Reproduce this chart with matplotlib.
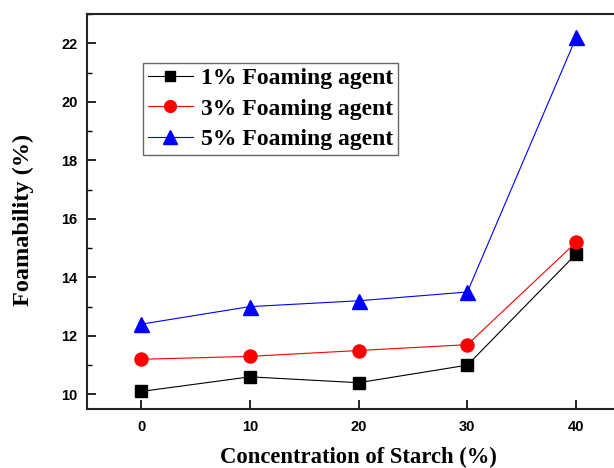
import matplotlib
matplotlib.use("Agg")
import matplotlib.pyplot as plt
from matplotlib.ticker import MultipleLocator

# ── Data ────────────────────────────────────────────────────────────────
starch = [0, 10, 20, 30, 40]
foam_1 = [10.1, 10.6, 10.4, 11.0, 14.8]
foam_3 = [11.2, 11.3, 11.5, 11.7, 15.2]
foam_5 = [12.4, 13.0, 13.2, 13.5, 22.2]
labels = ["1% Foaming agent", "3% Foaming agent", "5% Foaming agent"]

# ── Figure ──────────────────────────────────────────────────────────────
fig = plt.figure(figsize=(6.14, 4.68), dpi=100)
# right spine falls just outside the picture, as in the reference
ax = fig.add_axes([0.1412, 0.126, 0.8857, 0.844])

ax.plot(starch, foam_1, color="black", lw=0.8, marker="s", ms=8.4,
        mec="black", mfc="black", label=labels[0])
ax.plot(starch, foam_3, color="red", lw=0.8, marker="o", ms=9.4,
        mec="red", mfc="red", label=labels[1])
ax.plot(starch, foam_5, color="blue", lw=0.8, marker="^", ms=10.8,
        mec="blue", mfc="blue", label=labels[2])

ax.set_xlim(-5, 45)
ax.set_ylim(9.5, 23)
ax.set_xticks([0, 10, 20, 30, 40])
ax.yaxis.set_major_locator(MultipleLocator(2))
ax.yaxis.set_minor_locator(MultipleLocator(1))
ax.tick_params(which="both", direction="in", top=False, right=False)
ax.tick_params(which="major", length=6.5, width=1.2)
ax.tick_params(axis="x", which="major", pad=8)
ax.tick_params(axis="y", which="major", pad=6.5)
ax.tick_params(which="minor", length=3.6, width=1.0)
for lab in ax.get_xticklabels() + ax.get_yticklabels():
    lab.set_fontfamily("Liberation Sans")
    lab.set_fontweight("bold")
    lab.set_fontsize(10.5)

for side in ["left", "bottom", "top"]:
    ax.spines[side].set_linewidth(1.5)
    ax.spines[side].set_color("#222222")

ax.set_xlabel("Concentration of Starch (%)", family="Liberation Serif",
              fontweight="bold", fontsize=16.3, labelpad=9)
ax.set_ylabel("Foamability (%)", family="Liberation Serif",
              fontweight="bold", fontsize=17.5)
ax.yaxis.set_label_coords(-0.097, 0.478)

leg = ax.legend(loc="upper left", bbox_to_anchor=(0.1035, 0.876),
                prop={"family": "Liberation Serif", "weight": "bold", "size": 17},
                fancybox=False, framealpha=1, edgecolor="#666666",
                handlelength=1.9, handletextpad=0.34, borderpad=0.2,
                labelspacing=0.37, borderaxespad=0, markerscale=0.9)
leg.get_frame().set_linewidth(1.0)

fig.savefig("out.png", dpi=100)
